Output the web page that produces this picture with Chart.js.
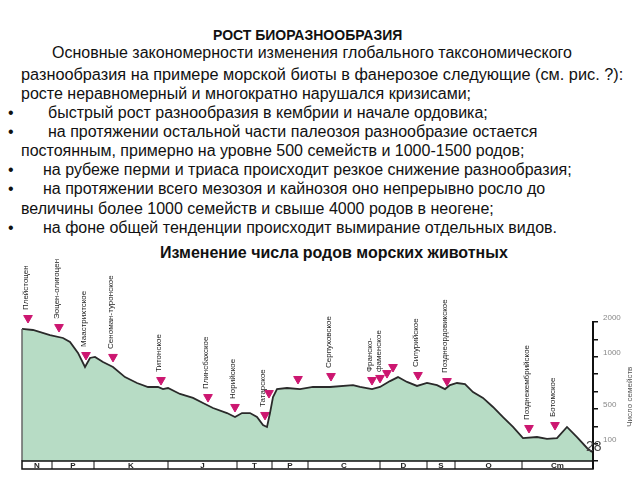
<!DOCTYPE html>
<html>
<head>
<meta charset="utf-8">
<script src="https://cdn.jsdelivr.net/npm/chart.js@4.4.0/dist/chart.umd.min.js"></script>
<style>
  body { margin: 0; width: 640px; height: 480px; background: #fff; position: relative; overflow: hidden;
         font-family: "Liberation Sans", Arial, sans-serif; color: #111; }
  .t { position: absolute; white-space: nowrap; font-size: 16px; line-height: 18px; }
  .b { font-weight: bold; }
  #chart { position: absolute; left: 0; top: 250px; }
  #page { position: absolute; left: 586px; top: 438px; font-size: 14px; color: #444; }
</style>
</head>
<body>
<div class="t b" style="left:213px;top:26px;font-size:14px">РОСТ БИОРАЗНООБРАЗИЯ</div>
<div class="t" style="left:52px;top:44px">Основные закономерности изменения глобального таксономического</div>
<div class="t" style="left:21px;top:65px;font-size:16.3px">разнообразия на примере морской биоты в фанерозое следующие (см. рис. ?):</div>
<div class="t" style="left:21px;top:85px">росте неравномерный и многократно нарушался кризисами;</div>
<div class="t" style="left:8px;top:104px">•</div>
<div class="t" style="left:48px;top:104px">быстрый рост разнообразия в кембрии и начале ордовика;</div>
<div class="t" style="left:8px;top:123px">•</div>
<div class="t" style="left:48px;top:123px">на протяжении остальной части палеозоя разнообразие остается</div>
<div class="t" style="left:21px;top:142px">постоянным, примерно на уровне 500 семейств и 1000-1500 родов;</div>
<div class="t" style="left:8px;top:161px">•</div>
<div class="t" style="left:43px;top:161px">на рубеже перми и триаса происходит резкое снижение разнообразия;</div>
<div class="t" style="left:8px;top:180px">•</div>
<div class="t" style="left:43px;top:180px">на протяжении всего мезозоя и кайнозоя оно непрерывно росло до</div>
<div class="t" style="left:21px;top:200px">величины более 1000 семейств и свыше 4000 родов в неогене;</div>
<div class="t" style="left:8px;top:219px">•</div>
<div class="t" style="left:43px;top:219px">на фоне общей тенденции происходит вымирание отдельных видов.</div>
<div class="t b" style="left:160px;top:244px;font-size:16px">Изменение числа родов морских животных</div>

<canvas id="chart" width="640" height="230"></canvas>
<div id="page">28</div>

<script>
// geological periods, young -> old (left -> right), boundaries in Ma as drawn
const periodNames = ['N', 'P', 'K', 'J', 'T', 'P', 'C', 'D', 'S', 'O', 'Cm'];
const periodBounds = [0, 30, 72, 146, 215, 250, 286, 358, 405, 433, 500, 571];

// diversity curve
const ageMa = [0, 11, 28, 41, 48, 56, 63, 68, 73, 81, 91, 103, 115, 126, 136, 141, 146, 158, 171, 181,
  191, 205, 213, 220, 228, 235, 241, 245, 248, 251, 255, 265, 278, 291, 308, 331, 338, 350, 358, 368,
  376, 385, 395, 405, 415, 423, 428, 435, 443, 451, 461, 471, 481, 491, 501, 515, 525, 535, 545, 555,
  565, 570];
const diversity = [760, 754, 725, 708, 685, 622, 541, 593, 599, 570, 541, 483, 449, 426, 426, 414, 420, 386, 363, 334,
  305, 276, 253, 276, 276, 253, 207, 196, 276, 368, 414, 420, 414, 426, 426, 437, 426, 414, 426, 460,
  483, 455, 432, 449, 437, 414, 437, 449, 443, 397, 363, 311, 253, 196, 132, 138, 127, 132, 196, 138,
  75, 52];

// extinction events (triangles)
const eventAge = [6, 37, 64, 91, 139, 186, 213, 243, 247, 276, 309, 350, 358, 365, 371, 396, 425, 507, 533];
const eventLevel = [823, 771, 610, 599, 466, 368, 311, 265, 391, 472, 489, 466, 478, 506, 541, 495, 460, 190, 207];
const eventNames = [
  ['Плейстоцен'], ['Эоцен-олигоцен'], ['Маастрихтское'], ['Сеноман-туронское'], ['Титонское'],
  ['Плинсбахское'], ['Норийское'], ['Татарское'], [], [], ['Серпуховское'],
  ['Франско-', 'фаменское'], [], [], [], ['Силурийское'], ['Позднеордовикское'],
  ['Позднекембрийское'], ['Ботомское']
];

// y axis
const yTickLabels = ['', '100', '', '500', '', '', '1000', '', '2000'];
const yTitle = 'Число семейств';

const curve = ageMa.map((a, i) => ({x: a, y: diversity[i]}));
const events = eventAge.map((a, i) => ({x: a, y: eventLevel[i]}));

const decor = {
  id: 'decor',
  afterDraw(chart) {
    const ctx = chart.ctx;
    const x = chart.scales.x, y = chart.scales.y;
    const area = chart.chartArea;

    // left edge of filled area
    ctx.save();
    ctx.strokeStyle = '#666';
    ctx.lineWidth = 1.5;
    ctx.beginPath();
    ctx.moveTo(area.left, y.getPixelForValue(diversity[0]));
    ctx.lineTo(area.left, area.bottom);
    ctx.stroke();

    // period band
    const top = area.bottom, h = 8;
    ctx.fillStyle = '#fff';
    ctx.fillRect(area.left, top, area.right - area.left, h);
    ctx.strokeStyle = '#111';
    ctx.lineWidth = 1.5;
    ctx.strokeRect(area.left, top, area.right - area.left, h);
    ctx.lineWidth = 1;
    ctx.font = 'bold 8px "Liberation Sans", Arial, sans-serif';
    ctx.fillStyle = '#222';
    ctx.textAlign = 'center';
    ctx.textBaseline = 'middle';
    periodNames.forEach((n, i) => {
      const x0 = x.getPixelForValue(periodBounds[i]);
      const x1 = x.getPixelForValue(periodBounds[i + 1]);
      if (i > 0) {
        ctx.beginPath();
        ctx.moveTo(x0, top);
        ctx.lineTo(x0, top + h);
        ctx.stroke();
      }
      ctx.fillText(n, (x0 + x1) / 2, top + h / 2 + 1);
    });
    // right axis line down through the band
    ctx.lineWidth = 2;
    ctx.beginPath();
    ctx.moveTo(area.right, area.top);
    ctx.lineTo(area.right, top + h);
    ctx.stroke();

    // event labels
    const pts = chart.getDatasetMeta(1).data;
    ctx.font = '8px "Liberation Sans Narrow", "Liberation Sans", sans-serif';
    ctx.fillStyle = '#222';
    ctx.textAlign = 'left';
    ctx.textBaseline = 'middle';
    eventNames.forEach((lines, i) => {
      lines.forEach((s, k) => {
        ctx.save();
        ctx.translate(pts[i].x - 2 + k * 9, pts[i].y - 8);
        ctx.rotate(-Math.PI / 2);
        ctx.fillText(s, 0, 0);
        ctx.restore();
      });
    });

    // axis title
    ctx.font = '8px "Liberation Sans", sans-serif';
    ctx.fillStyle = '#555';
    ctx.textAlign = 'center';
    ctx.save();
    ctx.translate(630, y.getPixelForValue(370));
    ctx.rotate(-Math.PI / 2);
    ctx.fillText(yTitle, 0, 0);
    ctx.restore();
    ctx.restore();
  }
};

new Chart(document.getElementById('chart'), {
  type: 'line',
  data: {
    datasets: [
      {
        data: curve,
        borderColor: '#2a2a2a',
        borderWidth: 1.8,
        backgroundColor: '#b7dcc5',
        fill: 'origin',
        pointRadius: 0,
        tension: 0
      },
      {
        data: events,
        showLine: false,
        pointStyle: 'triangle',
        rotation: 180,
        pointRadius: 5,
        backgroundColor: '#cc1670',
        borderColor: '#cc1670',
        clip: false
      }
    ]
  },
  options: {
    responsive: false,
    animation: false,
    devicePixelRatio: 1,
    layout: {padding: {top: 72, bottom: 19, left: 22, right: 0}},
    plugins: {legend: {display: false}, tooltip: {enabled: false}},
    scales: {
      x: {type: 'linear', min: 0, max: 571, display: false},
      y: {
        position: 'right',
        min: 0,
        max: 800,
        afterFit(scale) { scale.width = 47; },
        border: {display: true, color: '#111', width: 2},
        grid: {drawOnChartArea: false, color: '#111', tickLength: 5, lineWidth: 1.5},
        ticks: {
          stepSize: 100,
          padding: 5,
          labelOffset: -4,
          color: '#888',
          font: {size: 8},
          callback: (v) => yTickLabels[Math.round(v / 100)]
        }
      }
    }
  },
  plugins: [decor]
});
</script>
</body>
</html>
